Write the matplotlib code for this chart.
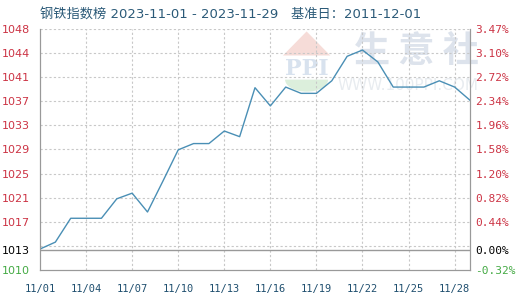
import numpy as np
import matplotlib
matplotlib.use('Agg')
from matplotlib import pyplot as plt
from matplotlib.patches import Polygon, Wedge

plt.rcParams['font.family'] = ['Noto Sans CJK SC', 'DejaVu Sans']

# Datos
dias = [1, 2, 3, 4, 5, 6, 7, 8, 9, 10, 11, 12, 13, 14, 15,
        16, 17, 18, 19, 20, 21, 22, 23, 24, 25, 26, 27, 28, 29]
valores = [1013.0, 1014.1, 1017.9, 1017.9, 1017.9, 1021.0, 1021.9, 1018.9, 1023.8,
           1028.8, 1029.8, 1029.8, 1031.8, 1030.9, 1038.7, 1035.8, 1038.8, 1037.8,
           1037.8, 1039.8, 1043.7, 1044.7, 1042.8, 1038.8, 1038.8, 1038.8, 1039.8,
           1038.8, 1036.7]

base = 1012.9
y_min, y_max = 1009.66, 1048.05
etiquetas_izq = ['1010', '', '1017', '1021', '1025', '1029', '1033', '1037', '1041', '1044', '1048']
etiquetas_der = ['-0.32%', '', '0.44%', '0.82%', '1.20%', '1.58%', '1.96%', '2.34%', '2.72%', '3.10%', '3.47%']
x_ticks = [1, 4, 7, 10, 13, 16, 19, 22, 25, 28]
x_etiquetas = ['11/01', '11/04', '11/07', '11/10', '11/13', '11/16', '11/19', '11/22', '11/25', '11/28']

rojo = '#cc3344'
verde = '#44aa44'
azul_txt = '#1f4f6f'

fig = plt.figure(figsize=(5.2, 3.0), dpi=100)
ax = fig.add_axes([40/520, 30/300, 430/520, 241/300])

# Marca de agua
ax.text(1.02, 0.905, '生 意 社', transform=ax.transAxes, ha='right', va='center',
        fontsize=26, color='#dde3ec', fontweight='bold', zorder=0)
ax.text(1.02, 0.765, 'WWW.100PPI.COM', transform=ax.transAxes, ha='right', va='center',
        fontsize=11, color='#e8ecf0', zorder=0, family='DejaVu Sans')
roof = Polygon([[0.565, 0.89], [0.62, 0.99], [0.675, 0.89]], closed=True,
               transform=ax.transAxes, color='#f6dcd8', zorder=0, lw=0)
ax.add_patch(roof)
ax.text(0.62, 0.835, 'PPI', transform=ax.transAxes, ha='center', va='center',
        fontsize=16, color='#d8e2ee', fontweight='bold', family='DejaVu Serif', zorder=0)
bowl = Wedge((0.62, 0.79), 0.05, 180, 360, transform=ax.transAxes,
             color='#dcefdc', zorder=0, lw=0)
ax.add_patch(bowl)

ticks_y = np.linspace(y_min, y_max, 11)
ax.set_ylim(y_min, y_max)
ax.set_xlim(1, 29)

# Rejilla
for t in ticks_y[1:]:
    ax.axhline(t, color='#c8c8c8', lw=0.8, ls=(0, (2, 2)), zorder=1)
for d in range(4, 29, 3):
    ax.axvline(d, color='#c8c8c8', lw=0.8, ls=(0, (2, 2)), zorder=1)
ax.axhline(base, color='#999999', lw=1.0, zorder=2)

ax.plot(dias, valores, color='#4a8fb5', lw=1.0, zorder=3)

for s in ['left', 'right', 'bottom']:
    ax.spines[s].set_color('#999999')
ax.spines['top'].set_visible(False)

# Eje izquierdo
ax.set_yticks(list(ticks_y[[0] + list(range(2, 11))]) + [base])
izq = [etiquetas_izq[0]] + etiquetas_izq[2:] + ['1013']
ax.set_yticklabels(izq, fontsize=8, family='DejaVu Sans')
for lab, txt in zip(ax.get_yticklabels(), izq):
    lab.set_color('black' if txt == '1013' else (verde if txt == '1010' else rojo))
ax.tick_params(axis='y', length=0, pad=7)

# Eje derecho
ax2 = ax.twinx()
ax2.set_ylim(y_min, y_max)
ax2.set_yticks(list(ticks_y[[0] + list(range(2, 11))]) + [base])
der = [etiquetas_der[0]] + etiquetas_der[2:] + ['0.00%']
ax2.set_yticklabels(der, fontsize=8, family='DejaVu Sans Mono')
for lab, txt in zip(ax2.get_yticklabels(), der):
    lab.set_color('black' if txt == '0.00%' else (verde if txt.startswith('-') else rojo))
ax2.tick_params(axis='y', length=0, pad=4)
for s in ['left', 'right', 'bottom']:
    ax2.spines[s].set_color('#999999')
ax2.spines['top'].set_visible(False)

ax.set_xticks(x_ticks)
ax.set_xticklabels(x_etiquetas, fontsize=7.5, color=azul_txt, family='DejaVu Sans Mono')
ax.tick_params(axis='x', length=0, pad=10)

fig.text(40/520, 1 - 15/300, '钢铁指数榜 2023-11-01 - 2023-11-29   基准日：2011-12-01',
         fontsize=9.5, color='#2b5a78', va='center', ha='left',
         family=['DejaVu Sans', 'Noto Sans CJK SC'])

fig.savefig('out.png', dpi=100)
